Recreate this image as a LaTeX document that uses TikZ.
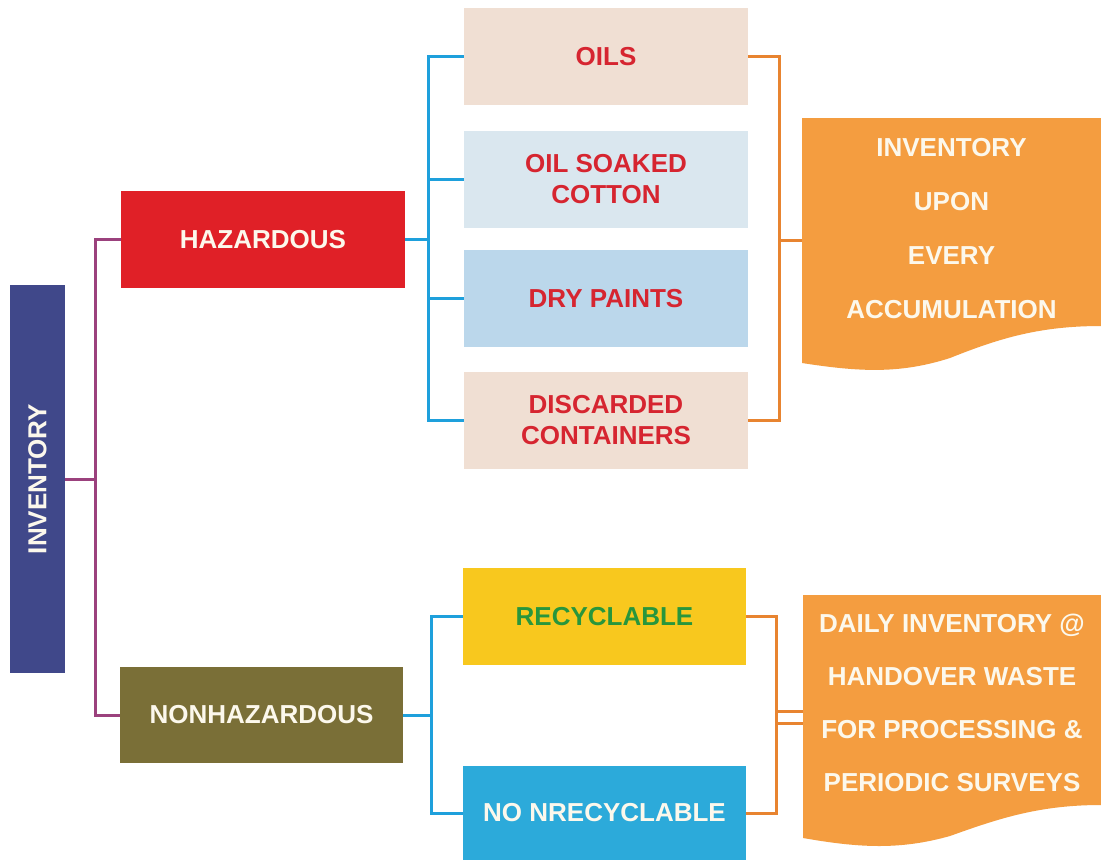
\documentclass[tikz,border=0pt]{standalone}
\usepackage{fontspec}
\setmainfont{Liberation Sans}
\definecolor{invblue}{RGB}{64,72,138}
\definecolor{purpleline}{RGB}{155,65,125}
\definecolor{hazred}{RGB}{224,32,39}
\definecolor{oliveb}{RGB}{122,111,55}
\definecolor{blueline}{RGB}{30,160,220}
\definecolor{beige}{RGB}{240,223,211}
\definecolor{paleblue}{RGB}{218,231,239}
\definecolor{lightblue}{RGB}{187,215,235}
\definecolor{redtext}{RGB}{214,37,48}
\definecolor{orangebox}{RGB}{244,157,64}
\definecolor{orangeline}{RGB}{232,132,48}
\definecolor{yellowb}{RGB}{248,200,30}
\definecolor{greentext}{RGB}{40,150,60}
\definecolor{skyb}{RGB}{44,170,218}
\definecolor{cream}{RGB}{252,248,236}
\begin{document}
\begin{tikzpicture}[x=1pt,y=-1pt,
  box/.style={rectangle, inner sep=0pt, align=center,
    font=\bfseries\fontsize{26}{31}\selectfont},
  item/.style={box, text=redtext, minimum width=284pt, minimum height=97pt},
  sub/.style={box, minimum width=283pt, minimum height=97pt},
  note/.style={inner sep=0pt, align=center, text=cream, minimum width=298pt},
  link/.style={line width=3pt},
]
\useasboundingbox (0,0) rectangle (1101,860);
\fill[white] (0,0) rectangle (1101,860);

% root and the two categories
\node[box, fill=invblue, text=cream, minimum width=55pt, minimum height=388pt]
  (inv) at (37.5,479) {\rotatebox{90}{INVENTORY}};
\node[box, fill=hazred, text=cream, minimum width=284pt, minimum height=97pt]
  (haz) at (263,239.5) {HAZARDOUS};
\node[box, fill=oliveb, text=cream, minimum width=283pt, minimum height=96pt]
  (non) at (261.5,715) {NONHAZARDOUS};

% hazardous items
\node[item, fill=beige]     (oils) at (606,56.5)  {OILS};
\node[item, fill=paleblue]  (cot)  at (606,179.5) {OIL SOAKED\\COTTON};
\node[item, fill=lightblue] (dry)  at (606,298.5) {DRY PAINTS};
\node[item, fill=beige]     (disc) at (606,420.5) {DISCARDED\\CONTAINERS};

% non-hazardous items
\node[sub, fill=yellowb, text=greentext] (rec) at (604.5,616.5) {RECYCLABLE};
\node[sub, fill=skyb, text=cream, minimum height=94pt] (nrec) at (604.5,813) {NO NRECYCLABLE};

% wavy note shapes
\fill[orangebox] (802,118) -- (1101,118) -- (1101,326)
  .. controls (1040,326) and (1000,338) .. (950,358)
  .. controls (900,374) and (860,372) .. (802,363) -- cycle;
\fill[orangebox] (803,595) -- (1101,595) -- (1101,805)
  .. controls (1040,805) and (1000,818) .. (950,836)
  .. controls (900,850) and (860,848) .. (803,838) -- cycle;

\node[note, font=\bfseries\fontsize{26}{54}\selectfont] (acc) at (951.5,228.5)
  {INVENTORY\\UPON\\EVERY\\ACCUMULATION};
\node[note, font=\bfseries\fontsize{26}{53}\selectfont] (daily) at (952,702.5)
  {DAILY INVENTORY @\\HANDOVER WASTE\\FOR PROCESSING \&\\PERIODIC SURVEYS};

% junction points
\coordinate (pj)  at (95,479);
\coordinate (bj)  at (428,238);
\coordinate (oj)  at (779,240);
\coordinate (bj2) at (431,713);
\coordinate (oj2) at (776,616);
\coordinate (oa)  at (776,711);
\coordinate (ob)  at (776,723);

% root connectors
\draw[link, purpleline] (inv.east) -- (pj);
\draw[link, purpleline] (haz.west) -| (pj) |- (non.west);

% hazardous branch
\draw[link, blueline] (haz.east) -- (haz.east -| bj);
\draw[link, blueline] (oils.west) -- (oils.west -| bj) -- (disc.west -| bj) -- (disc.west);
\draw[link, blueline] (cot.west) -- (cot.west -| bj);
\draw[link, blueline] (dry.west) -- (dry.west -| bj);
\draw[link, orangeline] (oils.east) -- (oils.east -| oj) -- (disc.east -| oj) -- (disc.east);
\draw[link, orangeline] (oj) -- (oj -| acc.west);

% non-hazardous branch
\draw[link, blueline] (non.east) -- (non.east -| bj2);
\draw[link, blueline] (rec.west) -- (rec.west -| bj2) -- (nrec.west -| bj2) -- (nrec.west);
\draw[link, orangeline] (rec.east) -- (rec.east -| oj2) -- (nrec.east -| oj2) -- (nrec.east);
\draw[link, orangeline] (oa) -- (oa -| daily.west);
\draw[link, orangeline] (ob) -- (ob -| daily.west);
\end{tikzpicture}
\end{document}
